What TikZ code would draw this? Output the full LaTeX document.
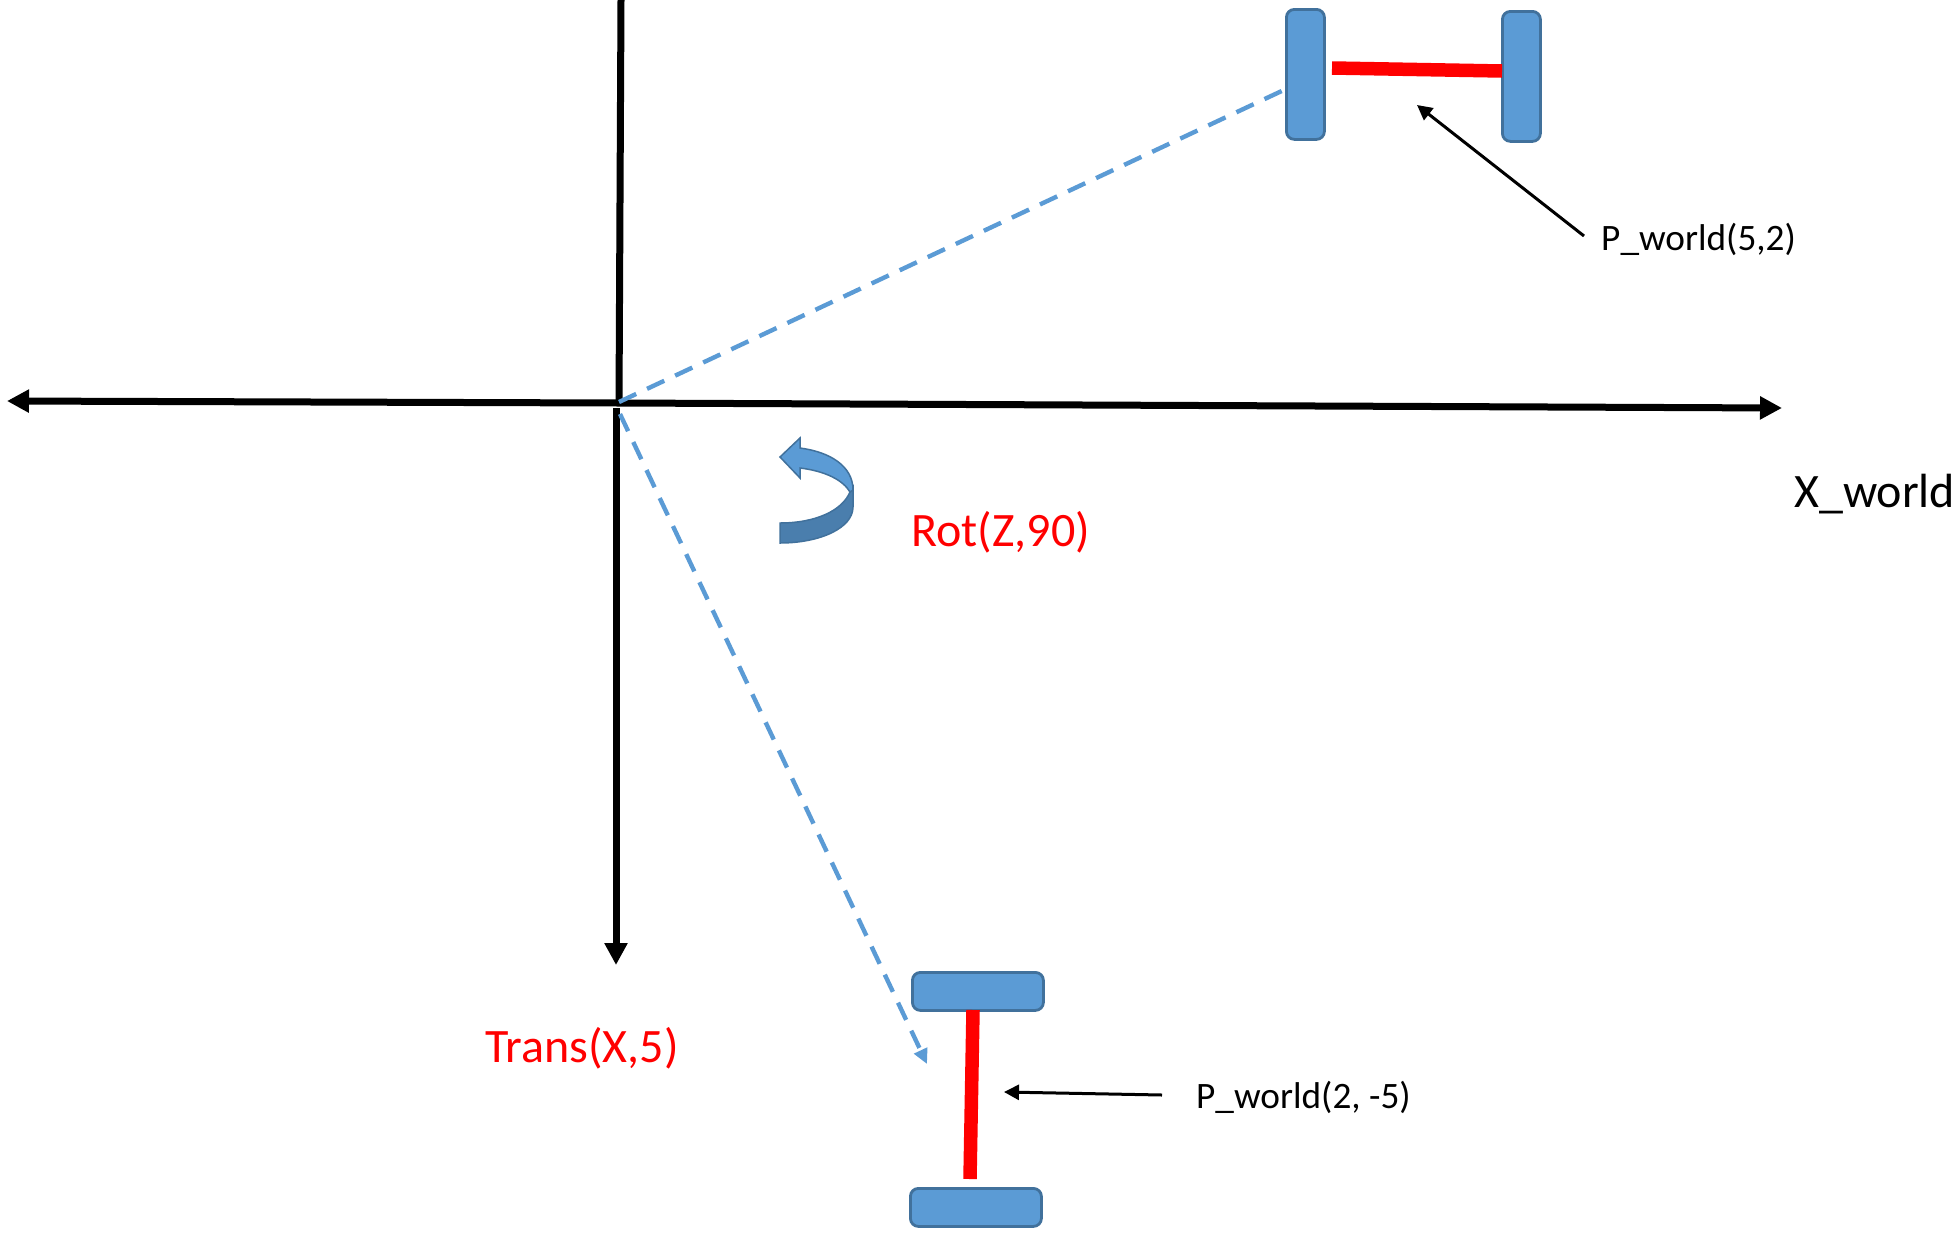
\documentclass[tikz,border=0pt]{standalone}
\usepackage{fontspec}
\setmainfont{Carlito}
\usetikzlibrary{arrows.meta}
\definecolor{wheelblue}{HTML}{5B9BD5}
\definecolor{wheeledge}{HTML}{41719C}
\definecolor{wheeldark}{HTML}{4A7EAD}
\tikzset{
  x=1pt,y=-1pt,
  wheelbox/.style={draw=wheeledge,fill=wheelblue,line width=2.8pt,rounded corners=8pt,anchor=north west,inner sep=0pt},
  axle/.style={draw=red,line width=13.5pt},
  axis/.style={draw=black,line width=7pt,-{Triangle[length=22pt,width=22pt]}},
  axisplain/.style={draw=black,line width=7pt},
  dashblue/.style={draw=wheelblue,line width=4.4pt,dash pattern=on 19pt off 12pt},
  pointer/.style={draw=black,line width=3pt,-{Triangle[length=15pt,width=15pt]}},
  biglabel/.style={font=\fontsize{48}{52}\selectfont,inner sep=0pt,anchor=west},
  smalllabel/.style={font=\fontsize{37.3}{42}\selectfont,inner sep=0pt,anchor=west},
}
\begin{document}
\begin{tikzpicture}
\useasboundingbox (0,0) rectangle (1960,1232);
% free ends
\coordinate (origin) at (619,403);
\coordinate (xneg) at (7,401);
\coordinate (xpos) at (1782,408);
\coordinate (ytop) at (621,0);
\coordinate (ystart) at (616,408);
\coordinate (yend) at (616,965);
\coordinate (dashA) at (619,402);
\coordinate (dashAend) at (1286,89);
\coordinate (dashB) at (620,414);
\coordinate (dashBend) at (927,1064);
% axes
\draw[axisplain] (ytop) -- (origin);
\draw[axis] (ystart) -- (yend);
\draw[axis] (origin) -- (xneg);
\draw[axis] (origin) -- (xpos);
% dashed
\draw[dashblue] (dashA) -- (dashAend);
\draw[dashblue,-{Triangle[length=15pt,width=14pt]}] (dashB) -- (dashBend);
% top robot
\node[wheelbox,minimum width=38pt,minimum height=130pt] (wtl) at (1285,8) {};
\node[wheelbox,minimum width=38pt,minimum height=130pt] (wtr) at (1501,10) {};
\coordinate (atl) at (1332,68);
\coordinate (atr) at (1502,71);
\draw[axle] (atl) -- (atr);
% bottom robot
\node[wheelbox,minimum width=131pt,minimum height=38pt] (wbt) at (911,971) {};
\node[wheelbox,minimum width=131pt,minimum height=38pt] (wbb) at (909,1187) {};
\coordinate (abt) at (973,1010);
\coordinate (abb) at (970,1179);
\draw[axle] (abt) -- (abb);
% labels
\node[smalllabel] (ptop) at (1601,239) {P\_world(5,2)};
\node[smalllabel] (pbot) at (1196,1097) {P\_world(2, -5)};
\node[biglabel] (xw) at (1794,494) {X\_world};
\node[biglabel,text=red] (rot) at (911,532) {Rot(Z,90)};
\node[biglabel,text=red] (trans) at (485,1048) {Trans(X,5)};
% pointers
\coordinate (ptopstart) at (1584,236);
\coordinate (ptoptip) at (1417,105);
\coordinate (pbotstart) at (1162,1095);
\coordinate (pbottip) at (1004,1092);
\draw[pointer] (ptopstart) -- (ptoptip);
\draw[pointer] (pbotstart) -- (pbottip);
% curved arrow
\draw[draw=wheeledge,fill=wheeldark,line width=1.5pt]
  (780,523) .. controls (815,523) and (842,511) .. (850,492)
  -- (853,487) -- (853,507)
  .. controls (853,528) and (820,543) .. (780,543) -- cycle;
\draw[draw=wheeledge,fill=wheelblue,line width=1.5pt,line join=miter]
  (780,457) -- (800,438) -- (800,448)
  .. controls (830,452) and (853,466) .. (853,490)
  -- (850,492)
  .. controls (843,480) and (825,471) .. (800,468)
  -- (800,478) -- cycle;
\end{tikzpicture}
\end{document}
